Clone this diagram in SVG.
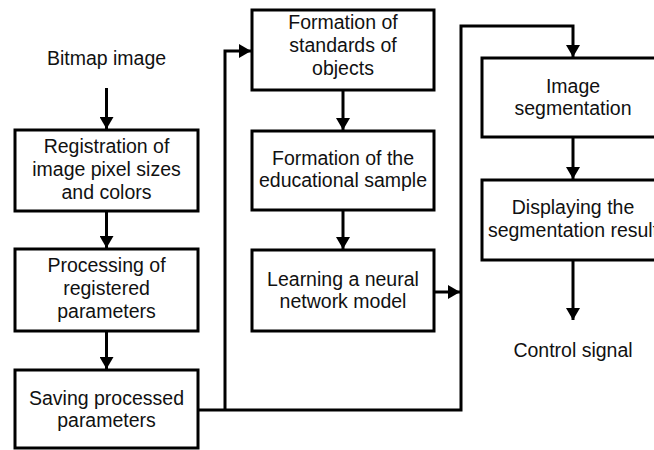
<svg xmlns="http://www.w3.org/2000/svg" width="654" height="450" viewBox="0 0 654 450">
<style>
.box{fill:#fff;stroke:#000;stroke-width:3}
.ln{fill:none;stroke:#000;stroke-width:3}
text{font-family:"Liberation Sans",Arial,sans-serif;font-size:19.5px;fill:#111;text-anchor:middle}
</style>
<defs>
<marker id="ah" markerUnits="userSpaceOnUse" markerWidth="12" markerHeight="14" viewBox="0 0 12 14" refX="12" refY="7" orient="auto">
<path d="M0,0 L12,7 L0,14 Z" fill="#000"/>
</marker>
</defs>
<rect width="654" height="450" fill="#fff"/>
<g id="connectors">
<line class="ln" x1="106.5" y1="88" x2="106.5" y2="129" marker-end="url(#ah)"/>
<line class="ln" x1="106.5" y1="211" x2="106.5" y2="248" marker-end="url(#ah)"/>
<line class="ln" x1="106.5" y1="331" x2="106.5" y2="369" marker-end="url(#ah)"/>
<polyline class="ln" points="198,410 461,410 461,26 573,26 573,57" marker-end="url(#ah)"/>
<polyline class="ln" points="225,410 225,51 251,51" marker-end="url(#ah)"/>
<line class="ln" x1="343" y1="90" x2="343" y2="130" marker-end="url(#ah)"/>
<line class="ln" x1="343" y1="210" x2="343" y2="249" marker-end="url(#ah)"/>
<line class="ln" x1="434" y1="292" x2="460" y2="292" marker-end="url(#ah)"/>
<line class="ln" x1="573" y1="137" x2="573" y2="179" marker-end="url(#ah)"/>
<line class="ln" x1="573" y1="260" x2="573" y2="320" marker-end="url(#ah)"/>
</g>
<g id="bitmap"><text x="106.5" y="65">Bitmap image</text></g>
<g id="registration"><rect class="box" x="15" y="130" width="183" height="81"/>
<text x="106.5" y="153">Registration of</text><text x="106.5" y="176">image pixel sizes</text><text x="106.5" y="199">and colors</text></g>
<g id="processing"><rect class="box" x="15" y="249" width="183" height="82"/>
<text x="106.5" y="272">Processing of</text><text x="106.5" y="295">registered</text><text x="106.5" y="318">parameters</text></g>
<g id="saving"><rect class="box" x="15" y="370" width="183" height="78"/>
<text x="106.5" y="405">Saving processed</text><text x="106.5" y="427">parameters</text></g>
<g id="standards"><rect class="box" x="252" y="10" width="182" height="80"/>
<text x="343" y="29">Formation of</text><text x="343" y="52">standards of</text><text x="343" y="75">objects</text></g>
<g id="sample"><rect class="box" x="252" y="131" width="182" height="79"/>
<text x="343" y="165">Formation of the</text><text x="343" y="187">educational sample</text></g>
<g id="learning"><rect class="box" x="252" y="250" width="182" height="81"/>
<text x="343" y="286">Learning a neural</text><text x="343" y="308">network model</text></g>
<g id="segmentation"><rect class="box" x="482" y="58" width="182" height="79"/>
<text x="573" y="93">Image</text><text x="573" y="115">segmentation</text></g>
<g id="displaying"><rect class="box" x="482" y="180" width="182" height="80"/>
<text x="573" y="214">Displaying the</text><text x="573" y="237">segmentation result</text></g>
<g id="control"><text x="573" y="357">Control signal</text></g>
</svg>
